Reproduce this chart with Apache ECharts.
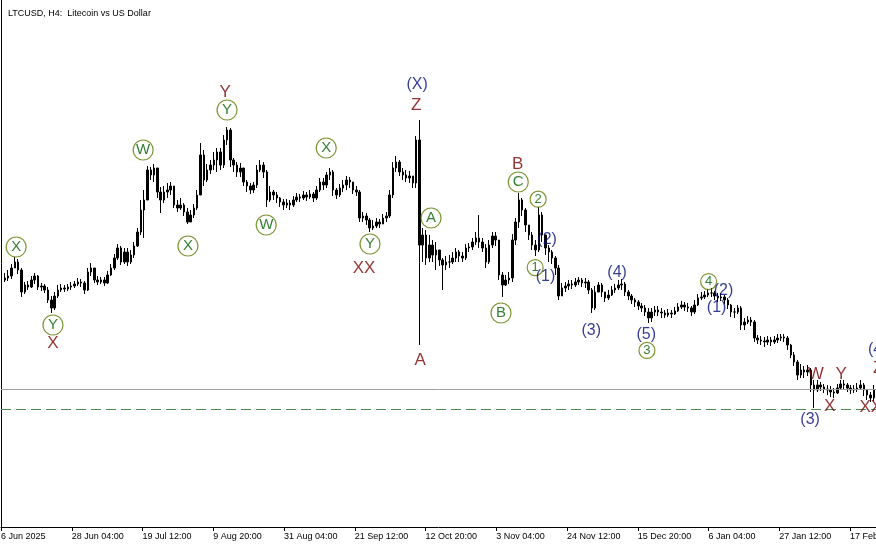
<!DOCTYPE html>
<html>
<head>
<meta charset="utf-8">
<script src="https://cdn.jsdelivr.net/npm/echarts@6/dist/echarts.min.js"></script>
<style>
html,body{margin:0;padding:0;background:#fff;}
#chart{width:876px;height:545px;}
</style>
</head>
<body>
<div id="chart"></div>
<script>
// Daily OHLC (USD), day 0 = 7 Jun 2025
const opens = [90,90.5,91,93,94.5,92.5,87,88.75,88.25,90,
91,88.25,88.5,87.5,85,83,86,87.5,88,87.75,
88.25,88.5,89,89.5,89.25,87.5,92,93,90,89.5,
90,89.25,91.25,93,95.5,98,94.5,97,94.5,96.25,
98.5,102,107.5,110,117.5,116.25,118,112,110,112,
112.5,113.5,108.75,108,108.75,107,104.5,106.25,108,111.25,
121.25,115,117.5,118.75,120,122,118.75,125,127.5,120,
118.75,117,118,114.5,113.5,112.5,113.75,117.5,118.75,117,
110,112,111.25,110.5,109.5,108.75,109.25,108.75,110,110.75,
110.5,111.25,110.75,111.5,110.5,112.5,114.5,113.75,116.25,117,
112.5,111.25,113,113.75,115,114.5,112.5,112,105.5,106,
105,103,103.5,104.5,104,105.5,106,111.25,118,119.5,
117,116.25,115.5,116,114.25,125,98.75,101.25,95.5,98.75,
96.25,97.5,95,93.75,94.5,94.5,95.5,97,96,95.5,
98,98.25,99.5,100.5,99.5,98,94.5,98.75,101,100,
91.25,88.75,90,90.5,100,104.5,110,107.5,103.75,101.25,
98.75,97.5,106.25,101.25,98,97,95.5,93,86,88,
88.5,89,88.75,89.5,90,89.25,89.5,87.5,83,87,
88.75,87,85.5,86.25,87.5,88,88.75,89,87,86,
85,84.5,83.5,83,82,80.5,82,82.5,82,81.75,
81.25,81.75,81.5,82.25,83.25,83.75,83.25,83,82,83.75,
85.5,85.75,86.25,86.75,86.75,86,85.5,85.75,85,83.75,
82,82,83,78.75,79.5,80,79.5,75.5,75,74.75,
74.5,75,74.5,75,75.5,75.75,75.5,73.75,71.25,69.5,
66.25,67.5,67,67.5,63.75,62.5,63.75,63.25,62.75,62.5,
62,61.75,63,64,63.75,63,62.5,62.75,63,63.75,
62.5,61.25,60.5,62.5];
const closes = [90.5,91,93,94.5,92.5,87,88.75,88.25,90,91,
88.25,88.5,87.5,85,83,86,87.5,88,87.75,88.25,
88.5,89,89.5,89.25,87.5,92,93,90,89.5,90,
89.25,91.25,93,95.5,98,94.5,97,94.5,96.25,98.5,
102,107.5,110,117.5,116.25,118,112,110,112,112.5,
113.5,108.75,108,108.75,107,104.5,106.25,108,111.25,121.25,
115,117.5,118.75,120,122,118.75,125,127.5,120,118.75,
117,118,114.5,113.5,112.5,113.75,117.5,118.75,117,110,
112,111.25,110.5,109.5,108.75,109.25,108.75,110,110.75,110.5,
111.25,110.75,111.5,110.5,112.5,114.5,113.75,116.25,117,112.5,
111.25,113,113.75,115,114.5,112.5,112,105.5,106,105,
103,103.5,104.5,104,105.5,106,111.25,118,119.5,117,
116.25,115.5,116,114.25,125,98.75,101.25,95.5,98.75,96.25,
97.5,95,93.75,94.5,94.5,95.5,97,96,95.5,98,
98.25,99.5,100.5,99.5,98,94.5,98.75,101,100,91.25,
88.75,90,90.5,100,104.5,110,107.5,103.75,101.25,98.75,
97.5,106.25,101.25,98,97,95.5,93,86,88,88.5,
89,88.75,89.5,90,89.25,89.5,87.5,83,87,88.75,
87,85.5,86.25,87.5,88,88.75,89,87,86,85,
84.5,83.5,83,82,80.5,82,82.5,82,81.75,81.25,
81.75,81.5,82.25,83.25,83.75,83.25,83,82,83.75,85.5,
85.75,86.25,86.75,86.75,86,85.5,85.75,85,83.75,82,
82,83,78.75,79.5,80,79.5,75.5,75,74.75,74.5,
75,74.5,75,75.5,75.75,75.5,73.75,71.25,69.5,66.25,
67.5,67,67.5,63.75,62.5,63.75,63.25,62.75,62.5,62,
61.75,63,64,63.75,63,62.5,62.75,63,63.75,62.5,
61.25,60.5,62.5,67];
const highs = [91.75,92.5,94,95.75,95.25,93,89.5,89.75,91,91.75,
91.25,89.25,89,88.25,86,87,88.75,89,88.75,89,
89.5,89.75,90.5,90.25,89.75,93,94.25,93,91,90.75,
90.75,92.25,94,96.5,99,98.5,98,98,97.5,99.5,
103,110,112.5,118.5,118.25,119,118,113.25,113.5,114.25,
114.5,113.5,110,110.5,109.25,108,107.5,109,112.5,124.25,
122.5,119,120,122,123,123,126.25,128.25,128,120.5,
119.5,119.25,118,115,114.25,114.5,118.75,120,119.5,117.5,
113.5,112.5,112,110.75,110.25,110.25,110,111,111.75,111.5,
112.25,112,112.5,112,113.5,115.5,115.5,117,118,117.5,
113,114,115,116,115.75,114,113.5,112.5,107,106.75,
105.5,105,105.5,105.25,106.5,107,112.5,119.5,121,120,
118,117.5,117.25,116,126,130,103,102.5,101.25,100,
99.5,97.5,95.5,96,96.25,97,98,97.5,97,99,
99.25,100.5,102,106.25,100.5,99,100,102,102,100,
92,91.25,92,101.5,105.5,111.75,110.5,108,103.75,102,
100,108.25,107,101.25,98.75,97.5,96,93.75,89.25,89.5,
90,90,90.5,90.75,90.5,90.5,90,88,88.5,89.5,
89.25,87,87.5,88.5,89,90,90.25,89.5,87.5,86.5,
85.5,85,84.25,83.75,83,83,83.5,83.5,83,82.5,
82.75,82.5,83.25,84.25,84.75,84.5,84.25,83.5,85,86.5,
87,87.25,87.75,88,87.25,86.75,86.75,86.25,85.5,84,
83,83.75,83.5,80.5,81,80.75,80,76.25,76,75.75,
76,75.75,76,76.5,76.5,76.5,76,74,72,70,
69,68.5,68.75,68,65,65,64.5,64,63.75,63.5,
63,64,65,65,64.25,63.75,63.75,64.25,65,64.25,
62.75,62,63.75,68.75];
const lows = [89.5,89.75,90.25,93,91.5,85.75,86.5,87.5,88,89,
87.5,87.25,86.75,84.25,81.75,82.5,85.5,87,87,87.25,
87.5,88,88.5,88.25,86.5,87.25,91,89.25,88.75,89,
88.5,89,91,92.5,95,93.75,94,93.5,94,95.5,
98.25,101.25,100.5,110,115,114.5,110.5,106.75,109.25,110.5,
111.25,108,107,107.5,106,104,104.5,105.5,107.5,111.25,
113.5,114.5,116.5,117.5,117,117.5,118,123.75,118.25,117,
115.75,115.75,113.5,112,111.5,111.75,113,117,115.5,108.25,
109.5,110,109.25,108.25,107.5,108,107.5,108.25,109.5,109.5,
110,109.75,110.25,109.5,110,112,112.5,113,115,111,
110.25,110.75,112,112.5,113,111.5,111,104.5,104.5,103.75,
102,102.5,103,103,104,104.5,105.5,110.5,117,116,
115,114.5,114.25,113,113,73.75,94.5,93.75,94.5,94.5,
92.5,93.5,87.5,92.5,93,94,94.5,94.5,94.5,95,
97,97.5,98.75,98,97,93,94,98,98.5,90,
85.75,88.5,89,89.5,98.75,103,106,102,100,97.5,
96,97,99.5,96.25,94.5,94,91.25,85,86.25,87,
87.5,87.75,88.25,88.75,88.25,88,86.5,81.75,82.5,87,
85.75,84.5,85,86,86.75,87.5,87.5,86,85,84,
83.25,82.5,82,81,79.25,79.5,81,81,80.5,80.5,
80.75,80.5,81.25,82,82.75,82.25,82,81,81.5,83.5,
85,85.25,85.75,85.75,85,84.5,84.75,84,82.75,80.75,
80.5,81.5,77.5,77.5,79,78.5,74.5,74,73.75,73.25,
73.75,73.5,74,74.25,74.75,74.5,72.5,70.5,68.5,65,
65.5,65.5,66,62,58,62,62.25,61.75,61.25,60.75,
60.5,61.5,62.5,62.75,62,61.5,61.75,62,62.5,61,
60,59.5,59.75,61.75];

// x axis tick labels, one every 128 H4 bars starting 6 Jun 2025 20:00
const tickLabels = ['6 Jun 2025','28 Jun 04:00','19 Jul 12:00','9 Aug 20:00','31 Aug 04:00','21 Sep 12:00','12 Oct 20:00','3 Nov 04:00','24 Nov 12:00','15 Dec 20:00','6 Jan 04:00','27 Jan 12:00','17 Feb 20:00'];

// horizontal price levels
const levelSolid = 62.75;
const levelDashed = 57.75;

// wave labels: [text, day index, price]
const circledLetters = [['X',3.4,98.25],['Y',14.5,78.75],['W',41.7,122.5],['X',55.2,98.5],['Y',67,132.5],['W',78.8,103.75],['X',96.9,123],['Y',110.1,99],['A',128.5,105.5],['C',154.8,114.5],['B',149.6,81.75]];
const circledDigits = [['2',160.8,110.2],['1',159.9,93.1],['3',193.6,72.4],['4',212.2,89.6]];
const redLabels = [['X',14.5,74.25],['Y',66.4,137],['XX',108.3,93],['Z',124,133.75],['A',125.2,70],['B',154.6,119],['W',244.5,66.4],['Y',252.2,66.4],['X',248.7,58.5],['XX',261.1,58.1],['Z',263.3,68]];
const navyLabels = [['(X)',124.3,138.75],['(2)',163.5,100],['(1)',163,90.75],['(3)',176.8,77.4],['(4)',184.6,91.75],['(5)',193.4,76.25],['(2)',216.7,87.4],['(1)',214.6,83.1],['(3)',242.8,55.1],['(4)',263.2,72.5]];

const BARS_PER_DAY = 6, FIRST_DAY_BAR = 7, BARS_PER_TICK = 128;
const dayToBar = d => d * BARS_PER_DAY + FIRST_DAY_BAR;

const candleData = closes.map((c, i) => [dayToBar(i), opens[i], c, lows[i], highs[i]]);
const FONT = 'Liberation Sans, Arial, sans-serif';

function labelSeries(list, symbolOpt, labelOpt) {
  return Object.assign({
    type: 'scatter', silent: true, clip: false, z: 6, animation: false,
    emphasis: {disabled: true},
    label: Object.assign({show: true, position: 'inside', formatter: p => p.name, fontFamily: FONT}, labelOpt),
    data: list.map(d => ({name: d[0], value: [dayToBar(d[1]), d[2]]}))
  }, symbolOpt);
}

const chart = echarts.init(document.getElementById('chart'), null, {renderer: 'canvas'});
chart.setOption({
  animation: false,
  backgroundColor: '#fff',
  title: {text: 'LTCUSD, H4:  Litecoin vs US Dollar', left: 3, top: 4,
    textStyle: {fontSize: 9, fontWeight: 'normal', fontFamily: FONT, color: '#000'}},
  grid: {left: 1, right: 0, top: 0, bottom: 18, outerBoundsMode: 'none', containLabel: false},
  xAxis: {type: 'value', min: 0, max: 1583, interval: BARS_PER_TICK,
    axisLine: {show: true, lineStyle: {color: '#000', width: 1}},
    axisTick: {show: true, length: 4, lineStyle: {color: '#000'}},
    axisLabel: {align: 'left', margin: 5, fontSize: 9, color: '#000', fontFamily: FONT, showMaxLabel: false,
      hideOverlap: false,
      formatter: v => (v % BARS_PER_TICK === 0 ? tickLabels[v / BARS_PER_TICK] : '')},
    splitLine: {show: false}},
  yAxis: {type: 'value', min: 28.25, max: 160,
    axisLine: {show: true, lineStyle: {color: '#000'}},
    axisTick: {show: false}, axisLabel: {show: false}, splitLine: {show: false}},
  series: [
    {type: 'candlestick', data: candleData, encode: {x: 0, y: [1, 2, 3, 4]},
      barWidth: 2, z: 3, silent: true,
      itemStyle: {color: '#000', color0: '#000', borderColor: '#000', borderColor0: '#000', borderWidth: 1},
      markLine: {silent: true, symbol: ['none', 'none'], label: {show: false}, animation: false,
        data: [
          {yAxis: levelSolid, lineStyle: {color: '#a0a0a0', type: 'solid', width: 1}},
          {yAxis: levelDashed, lineStyle: {color: '#4a8a4a', type: [10, 5], width: 1}}
        ]}},
    labelSeries(circledLetters, {symbol: 'circle', symbolSize: 20,
      itemStyle: {color: 'rgba(255,255,255,0)', borderColor: '#5c7a00', borderWidth: 1.2}},
      {fontSize: 15, color: '#006000'}),
    labelSeries(circledDigits, {symbol: 'circle', symbolSize: 16,
      itemStyle: {color: 'rgba(255,255,255,0)', borderColor: '#5c7a00', borderWidth: 1.2}},
      {fontSize: 13, color: '#006000'}),
    labelSeries(redLabels, {symbol: 'circle', symbolSize: 1, itemStyle: {color: 'rgba(0,0,0,0)'}},
      {fontSize: 17, color: '#780000'}),
    labelSeries(navyLabels, {symbol: 'circle', symbolSize: 1, itemStyle: {color: 'rgba(0,0,0,0)'}},
      {fontSize: 16, color: '#000a78'})
  ]
});
</script>
</body>
</html>
